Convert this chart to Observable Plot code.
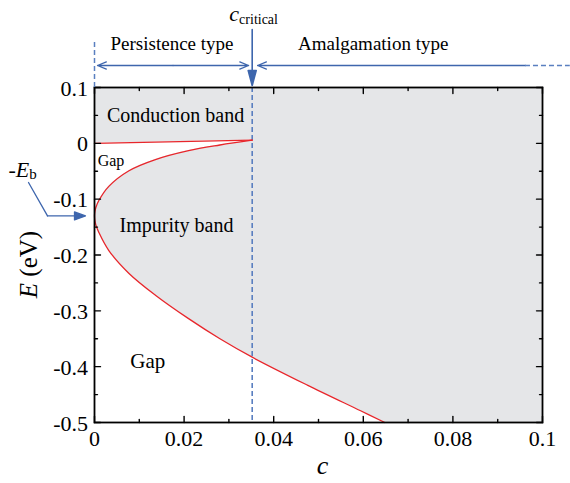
<!DOCTYPE html>
<html><head><meta charset="utf-8">
<script src="https://cdn.jsdelivr.net/npm/d3@7"></script>
<script src="https://cdn.jsdelivr.net/npm/@observablehq/plot@0.6"></script>
<style>
body{margin:0;background:#fff}
#chart svg, #chart svg text, #chart svg tspan { font-family: "Liberation Serif", "Times New Roman", Times, "DejaVu Serif", serif !important; }
</style>
</head><body><div id="chart"></div>
<script>
// Upper edge of the impurity band (c, E in eV)
const upperC = [0, 0.0001, 0.0003, 0.001, 0.0032, 0.0077, 0.0136, 0.021, 0.028, 0.0352];
const upperE = [-0.13, -0.122, -0.115, -0.102, -0.077, -0.049, -0.029, -0.013, -0.003, 0.0056];
// Lower edge of the impurity band
const lowerC = [0, 0.0001, 0.0003, 0.001, 0.0032, 0.0077, 0.0136, 0.021, 0.028, 0.0352, 0.0475, 0.0594, 0.0648];
const lowerE = [-0.13, -0.139, -0.146, -0.16, -0.192, -0.233, -0.272, -0.314, -0.35, -0.383, -0.433, -0.479, -0.5];
// Conduction band edge
const bandEdgeC = [0, 0.0352];
const bandEdgeE = [0, 0.0056];
const cCritical = 0.0352;
const bindingE = -0.13;

const xTicks = [0, 0.02, 0.04, 0.06, 0.08, 0.1];
const xTickLabels = ["0", "0.02", "0.04", "0.06", "0.08", "0.1"];
const xMinor = [0.01, 0.03, 0.05, 0.07, 0.09];
const yTicks = [0.1, 0, -0.1, -0.2, -0.3, -0.4, -0.5];
const yTickLabels = ["0.1", "0", "-0.1", "-0.2", "-0.3", "-0.4", "-0.5"];
const yMinor = [0.05, -0.05, -0.15, -0.25, -0.35, -0.45];

// annotation placement (data units)
const notes = [
  {key: "Persistence type", c: 0.0173, e: 0.168, size: 19, anchor: "middle"},
  {key: "Amalgamation type", c: 0.0622, e: 0.168, size: 19, anchor: "middle"},
  {key: "c_critical", c: 0.0301, e: 0.22, size: 22, anchor: "start"},
  {key: "Conduction band", c: 0.0181, e: 0.039, size: 20, anchor: "middle"},
  {key: "Gap", c: 0.0007, e: -0.040, size: 16, anchor: "start"},
  {key: "Impurity band", c: 0.0183, e: -0.159, size: 20, anchor: "middle"},
  {key: "Gap ", c: 0.008, e: -0.4016, size: 21, anchor: "start"},
  {key: "-Eb", c: -0.0192, e: -0.0607, size: 22, anchor: "start"}
];

const gray = "#e5e6e8", red = "#e8262b", blue = "#3e66ad", blueDash = "#5a7fc0";
const font = "Liberation Serif";

const edgeAt = d3.scaleLinear(bandEdgeC, bandEdgeE);
const upperGap = upperC.map((c, i) => ({c, e1: upperE[i], e2: edgeAt(c)}));
const lowerGap = lowerC.map((c, i) => ({c, e: lowerE[i]}));
const boundary = [
  ...upperC.map((c, i) => ({c, e: upperE[i]})).reverse(),
  ...lowerC.slice(1).map((c, i) => ({c, e: lowerE[i + 1]}))
];
const edgeLine = bandEdgeC.map((c, i) => ({c, e: bandEdgeE[i]}));

const tickShape = {draw(ctx, l) { ctx.moveTo(0, 0); ctx.lineTo(0, -l); }};
const headShape = (hl, hw) => ({draw(ctx, l) {
  ctx.moveTo(0, 0); ctx.lineTo(0, -l + hl);
  ctx.moveTo(0, -l); ctx.lineTo(-hw, -l + hl); ctx.lineTo(hw, -l + hl); ctx.closePath();
}});
const tk = (data, opts, len) => Plot.vector(data, {...opts, length: len, anchor: "start", shape: tickShape, stroke: "black", strokeWidth: 1.4});

const yTop = 0.1, yBot = -0.5;
const arrowY = 0.1394;

const plot = Plot.plot({
  width: 570, height: 483,
  marginLeft: 94, marginRight: 28, marginTop: 87, marginBottom: 61,
  x: {domain: [0, 0.1], axis: null},
  y: {domain: [yBot, yTop], axis: null},
  style: {background: "white", color: "black"},
  marks: [
    Plot.frame({fill: gray, stroke: null}),
    Plot.areaY(upperGap, {x: "c", y1: "e1", y2: "e2", fill: "white", curve: "catmull-rom"}),
    Plot.areaY(lowerGap, {x: "c", y1: yBot, y2: "e", fill: "white", curve: "catmull-rom"}),
    Plot.ruleX([cCritical], {y1: yTop, y2: yBot, stroke: blueDash, strokeWidth: 1.6, strokeDasharray: "5,3"}),
    Plot.line(boundary, {x: "c", y: "e", stroke: red, strokeWidth: 1.3, curve: "catmull-rom"}),
    Plot.line(edgeLine, {x: "c", y: "e", stroke: red, strokeWidth: 1.3}),
    tk(xTicks, {x: d => d, frameAnchor: "bottom", rotate: 0}, 6),
    tk(xMinor, {x: d => d, frameAnchor: "bottom", rotate: 0}, 3),
    tk(xTicks, {x: d => d, frameAnchor: "top", rotate: 180}, 6),
    tk(xMinor, {x: d => d, frameAnchor: "top", rotate: 180}, 3),
    tk(yTicks, {y: d => d, frameAnchor: "left", rotate: 90}, 6),
    tk(yMinor, {y: d => d, frameAnchor: "left", rotate: 90}, 3),
    tk(yTicks, {y: d => d, frameAnchor: "right", rotate: 270}, 6),
    tk(yMinor, {y: d => d, frameAnchor: "right", rotate: 270}, 3),
    Plot.frame({stroke: "black", strokeWidth: 1.8}),
    Plot.text(xTicks, {x: d => d, text: (d, i) => xTickLabels[i], frameAnchor: "bottom", lineAnchor: "bottom", dy: 23, fontSize: 22, fontFamily: font}),
    Plot.text(yTicks, {y: d => d, text: (d, i) => yTickLabels[i], frameAnchor: "left", textAnchor: "end", lineAnchor: "middle", dx: -6.5, dy: 1, fontSize: 22, fontFamily: font}),
    Plot.text(["c"], {x: 0.0509, text: d => d, frameAnchor: "bottom", lineAnchor: "bottom", dy: 51, fontSize: 26, fontStyle: "italic", fontFamily: font}),
    Plot.text(["E (eV)"], {x: -0.0147, y: -0.217, text: d => d, rotate: -90, textAnchor: "middle", lineAnchor: "middle", fontSize: 25, fontFamily: font}),
    ...notes.map(n => Plot.text([n], {x: "c", y: "e", text: "key", textAnchor: n.anchor, lineAnchor: "bottom", fontSize: n.size, fontFamily: font})),
    // region arrows above the plot
    Plot.ruleX([0], {y1: yTop, y2: 0.1805, stroke: blueDash, strokeWidth: 1.5, strokeDasharray: "5,3"}),
    Plot.arrow([{a: 0.01753, b: 0.00067}, {a: 0.01753, b: 0.0344}], {x1: "a", x2: "b", y1: arrowY, y2: arrowY, stroke: blue, strokeWidth: 1.3, headLength: 11, headAngle: 44}),
    Plot.arrow([{a: 0.0962, b: 0.0364}], {x1: "a", x2: "b", y1: arrowY, y2: arrowY, stroke: blue, strokeWidth: 1.3, headLength: 11, headAngle: 44}),
    Plot.ruleY([arrowY], {x1: 0.0962, x2: 0.1062, stroke: blueDash, strokeWidth: 1.3, strokeDasharray: "5,3"}),
    Plot.vector([cCritical], {x: d => d, y: yTop, rotate: 180, length: 56, anchor: "end", dy: -2, shape: headShape(15, 4), stroke: blue, fill: blue, strokeWidth: 1.6}),
    // -E_b pointer
    Plot.line([{c: -0.01473, e: -0.0702}, {c: -0.01049, e: bindingE}], {x: "c", y: "e", stroke: blue, strokeWidth: 1.3}),
    Plot.vector([bindingE], {x: -0.01049, y: d => d, rotate: 90, length: 38, anchor: "start", shape: headShape(11, 4), stroke: blue, fill: blue, strokeWidth: 1.3})
  ]
});
document.getElementById("chart").appendChild(plot);

const rich = {
  "c_critical": '<tspan font-style="italic">c</tspan><tspan font-size="14" dy="3">critical</tspan>',
  "-Eb": '-<tspan font-style="italic">E</tspan><tspan font-size="15" dy="2">b</tspan>',
  "E (eV)": '<tspan font-style="italic">E</tspan> (eV)',
  "Gap ": 'Gap'
};
d3.select(plot).selectAll("text").each(function () {
  const h = rich[this.textContent];
  if (h) this.innerHTML = h;
});
</script>
</body></html>
